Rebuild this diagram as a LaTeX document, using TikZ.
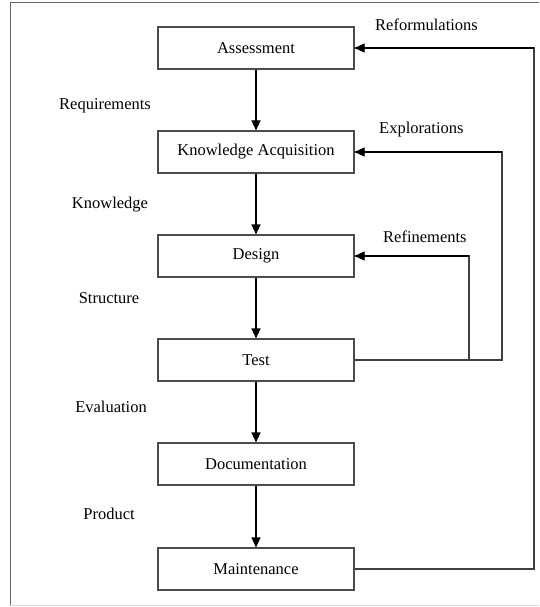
\documentclass[tikz,border=0pt]{standalone}
\usepackage{fontspec}
\setmainfont{Liberation Serif}
\usetikzlibrary{arrows.meta}
\tikzset{
  stage/.style={draw=black!70, line width=1.1pt, fill=white, minimum width=196pt, minimum height=42pt, inner sep=0pt, font=\fontsize{16.5}{19}\selectfont},
  lbl/.style={inner sep=0pt, font=\fontsize{16.5}{19}\selectfont},
  flow/.style={draw=black, line width=1.1pt, -{Triangle[length=10pt,width=9pt]}},
  back/.style={draw=black!75, line width=1.1pt},
}
\begin{document}
\begin{tikzpicture}[x=1pt,y=-1pt]
\useasboundingbox (0,0) rectangle (539,607);
\clip (0,0) rectangle (539,607);
\draw[black!60, line width=1pt] (545,3) -- (10,3) -- (10,605);
\draw[black!15, line width=1pt] (10,605) -- (545,605);
\node[stage] (ass) at (256,48) {Assessment};
\node[stage] (ka) at (256,152) {Knowledge Acquisition};
\node[stage] (des) at (256,256) {Design};
\node[stage] (tst) at (256,360) {Test};
\node[stage] (doc) at (256,464) {Documentation};
\node[stage] (mnt) at (256,569) {Maintenance};
\draw[flow] (ass) -- (ka);
\draw[flow] (ka) -- (des);
\draw[flow] (des) -- (tst);
\draw[flow] (tst) -- (doc);
\draw[flow] (doc) -- (mnt);
\coordinate (r1) at (469,360);
\coordinate (r2) at (469,256);
\coordinate (e1) at (502,360);
\coordinate (e2) at (502,152);
\coordinate (f1) at (534,569);
\coordinate (f2) at (534,48);
\draw[back] (tst.east) -- (e1) -- (e2) -- (ka.east);
\draw[back] (r1) -- (r2) -- (des.east);
\draw[back] (mnt.east) -- (f1) -- (f2) -- (ass.east);
\draw[flow] (r2) -- (des.east);
\draw[flow] (e2) -- (ka.east);
\draw[flow] (f2) -- (ass.east);
\node[lbl] (lreq) at (105,106) {Requirements};
\node[lbl] (lkno) at (110,205) {Knowledge};
\node[lbl] (lstr) at (109,298) {Structure};
\node[lbl] (leva) at (111,407) {Evaluation};
\node[lbl] (lpro) at (109,514) {Product};
\node[lbl,anchor=west] (lref) at (375,25) {Reformulations};
\node[lbl,anchor=west] (lexp) at (379,130) {Explorations};
\node[lbl,anchor=west] (lrfn) at (383,237) {Refinements};
\end{tikzpicture}
\end{document}
